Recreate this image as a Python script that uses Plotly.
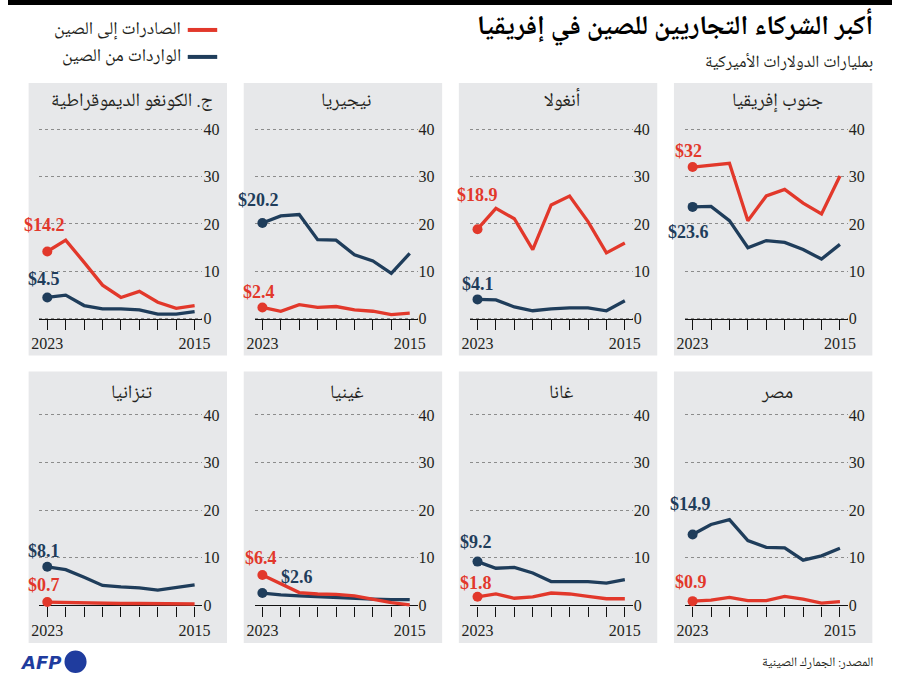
import plotly.graph_objects as go

# ---------------- data ----------------
years = [2023, 2022, 2021, 2020, 2019, 2018, 2017, 2016, 2015]
year_labels = ["2023", "", "", "", "", "", "", "", "2015"]

countries = ["ج. الكونغو الديموقراطية", "نيجيريا", "أنغولا", "جنوب إفريقيا",
             "تنزانيا", "غينيا", "غانا", "مصر"]

exports_congo = [14.2, 16.6, 11.9, 7.1, 4.5, 5.8, 3.5, 2.2, 2.8]
exports_nigeria = [2.4, 1.6, 3.0, 2.4, 2.6, 1.9, 1.6, 0.9, 1.2]
exports_angola = [18.9, 23.3, 21.1, 14.6, 24.0, 25.9, 20.5, 13.9, 16.0]
exports_south_africa = [32.0, 32.4, 32.8, 20.7, 25.9, 27.3, 24.4, 22.1, 30.1]
exports_tanzania = [0.7, 0.6, 0.5, 0.4, 0.4, 0.4, 0.4, 0.3, 0.3]
exports_guinea = [6.4, 4.6, 2.7, 2.4, 2.3, 2.0, 1.3, 0.6, 0.1]
exports_ghana = [1.8, 2.4, 1.5, 1.8, 2.6, 2.4, 1.9, 1.4, 1.4]
exports_egypt = [0.9, 1.1, 1.7, 1.0, 1.0, 1.9, 1.3, 0.5, 0.8]

imports_congo = [4.5, 5.0, 2.8, 2.1, 2.1, 1.9, 1.0, 1.0, 1.5]
imports_nigeria = [20.2, 21.7, 22.0, 16.7, 16.6, 13.5, 12.2, 9.6, 13.8]
imports_angola = [4.1, 4.0, 2.5, 1.7, 2.1, 2.3, 2.3, 1.7, 3.8]
imports_south_africa = [23.6, 23.7, 20.7, 15.0, 16.5, 16.1, 14.6, 12.6, 15.7]
imports_tanzania = [8.1, 7.5, 5.9, 4.2, 3.9, 3.7, 3.2, 3.7, 4.3]
imports_guinea = [2.6, 2.2, 2.0, 1.8, 1.7, 1.5, 1.3, 1.2, 1.2]
imports_ghana = [9.2, 7.8, 8.0, 6.8, 5.0, 5.0, 5.0, 4.7, 5.4]
imports_egypt = [14.9, 17.0, 18.0, 13.6, 12.2, 12.1, 9.5, 10.4, 12.0]

y_ticks = [0, 10, 20, 30, 40]

exports = [exports_congo, exports_nigeria, exports_angola, exports_south_africa,
           exports_tanzania, exports_guinea, exports_ghana, exports_egypt]
imports = [imports_congo, imports_nigeria, imports_angola, imports_south_africa,
           imports_tanzania, imports_guinea, imports_ghana, imports_egypt]

title = "أكبر الشركاء التجاريين للصين في إفريقيا"
subtitle = "بمليارات الدولارات الأميركية"
legend_exports = "الصادرات إلى الصين"
legend_imports = "الواردات من الصين"
source = "المصدر: الجمارك الصينية"

# ---------------- style / layout ----------------
W, H = 900, 683
RED = "#e2382b"
BLUE = "#1f3d5b"
PANEL_BG = "#e7e8ea"
TXT = "#231f20"
AR_FONT = "Noto Naskh Arabic, Noto Sans Arabic, DejaVu Sans, sans-serif"
NUM_FONT = "Liberation Serif, DejaVu Serif, serif"

panel_left = [21, 240, 459, 678]
panel_w = 202
row_top = [83, 372]
row_bot = [356, 644]
zero_px = [319.3, 606.3]
unit_px = [4.75, 4.77]
title_py = [102, 395]
y_lo, y_hi = -1.5, 42
px_per_year = 18.75

# label offsets (dx, dy in screen px) for exports / imports labels
exp_off = [(-3, -26), (-3.5, -15), (0, -34), (-4.5, -16),
           (-3, -17), (-1, -16.5), (-2, -14), (-2, -19)]
imp_off = [(-3, -18), (-3.5, -23), (0, -15.5), (-4, 25),
           (-3, -16), (35, -16), (-2, -19.5), (-2, -30)]


def fx(px):
    return px / W


def fy(py):
    return 1 - py / H


fig = go.Figure()
shapes = []
annotations = []
layout_axes = {}


def fmt(v):
    return "$" + ("%g" % v)


for i in range(8):
    r, c = divmod(i, 4)
    n = i + 1
    xs = "" if n == 1 else str(n)
    left = panel_left[c]
    shapes.append(dict(type="rect", xref="paper", yref="paper", layer="below",
                       x0=fx(left), x1=fx(left + panel_w),
                       y0=fy(row_bot[r]), y1=fy(row_top[r]),
                       fillcolor=PANEL_BG, line=dict(width=0)))
    x0p, x1p = left + 11, left + 177
    x_at_2023 = left + 19
    rng_left = years[0] + (x_at_2023 - x0p) / px_per_year
    rng_right = years[-1] - (x1p - (x_at_2023 + 8 * px_per_year)) / px_per_year
    u = unit_px[r]
    yb = zero_px[r] - y_lo * u
    yt = zero_px[r] - y_hi * u
    layout_axes["xaxis" + xs] = dict(
        domain=[fx(x0p), fx(x1p)], range=[rng_left, rng_right],
        anchor="free", position=fy(zero_px[r]),
        tickmode="array", tickvals=years, ticktext=year_labels,
        ticks="outside", ticklen=10, tickwidth=1, tickcolor="#111",
        showline=True, linecolor="#111", linewidth=1.3,
        showgrid=False, zeroline=False, layer="below traces",
        tickfont=dict(family=NUM_FONT, size=16, color=TXT), fixedrange=True)
    layout_axes["yaxis" + xs] = dict(
        domain=[fy(yb), fy(yt)], range=[y_lo, y_hi], anchor="x" + xs,
        side="right", tickmode="array", tickvals=y_ticks,
        ticks="", showgrid=True, gridcolor="#8c8c8c", griddash="dot", gridwidth=1,
        zeroline=False, showline=False, layer="below traces",
        tickfont=dict(family=NUM_FONT, size=16, color=TXT), fixedrange=True)

    for vals, col, off in ((imports[i], BLUE, imp_off[i]), (exports[i], RED, exp_off[i])):
        fig.add_trace(go.Scatter(
            x=years, y=vals, mode="lines", xaxis="x" + xs, yaxis="y" + xs,
            line=dict(color=col, width=3.3),
            showlegend=False, hoverinfo="skip"))
        fig.add_trace(go.Scatter(
            x=years[:1], y=vals[:1], mode="markers", xaxis="x" + xs, yaxis="y" + xs,
            marker=dict(size=10, color=col, opacity=1, line=dict(width=0)),
            showlegend=False, hoverinfo="skip"))
        annotations.append(dict(
            x=years[0], y=vals[0], xref="x" + xs, yref="y" + xs,
            text="<b>" + fmt(vals[0]) + "</b>", showarrow=False,
            xanchor="center", yanchor="middle", xshift=off[0], yshift=-off[1],
            font=dict(family=NUM_FONT, size=18, color=col)))

    annotations.append(dict(
        x=fx(left + panel_w / 2 + 4), y=fy(title_py[r]), xref="paper", yref="paper",
        text=countries[i], showarrow=False, xanchor="center", yanchor="middle",
        font=dict(family=AR_FONT, size=19, color=TXT)))

# header
shapes.append(dict(type="rect", xref="paper", yref="paper", x0=0, x1=1,
                   y0=fy(5), y1=1, fillcolor="#000", line=dict(width=0), layer="above"))
annotations.append(dict(x=fx(883), y=fy(28), xref="paper", yref="paper",
                        text="<b>" + title + "</b>", showarrow=False,
                        xanchor="right", yanchor="middle",
                        font=dict(family=AR_FONT, size=27, color="#000")))
annotations.append(dict(x=fx(883), y=fy(64), xref="paper", yref="paper",
                        text=subtitle, showarrow=False,
                        xanchor="right", yanchor="middle",
                        font=dict(family=AR_FONT, size=17, color=TXT)))
# legend
for txt, col, py in ((legend_exports, RED, 30), (legend_imports, BLUE, 57)):
    shapes.append(dict(type="line", xref="paper", yref="paper",
                       x0=fx(183), x1=fx(213), y0=fy(py), y1=fy(py),
                       line=dict(color=col, width=4)))
    annotations.append(dict(x=fx(178), y=fy(py), xref="paper", yref="paper",
                            text=txt, showarrow=False, xanchor="right", yanchor="middle",
                            font=dict(family=AR_FONT, size=18, color=TXT)))
# footer
annotations.append(dict(x=fx(883), y=fy(664), xref="paper", yref="paper",
                        text=source, showarrow=False, xanchor="right", yanchor="middle",
                        font=dict(family=AR_FONT, size=13, color=TXT)))
annotations.append(dict(x=fx(10), y=fy(663), xref="paper", yref="paper",
                        text="<b><i>AFP</i></b>", showarrow=False, xanchor="left",
                        yanchor="middle",
                        font=dict(family="DejaVu Sans, sans-serif", size=18,
                                  color="#1f3c9e")))
shapes.append(dict(type="circle", xref="paper", yref="paper",
                   x0=fx(57.5), x1=fx(80), y0=fy(674), y1=fy(651.5),
                   fillcolor="#1f3c9e", line=dict(width=0)))

fig.update_layout(width=W, height=H, margin=dict(l=0, r=0, t=0, b=0),
                  paper_bgcolor="white", plot_bgcolor="rgba(0,0,0,0)",
                  shapes=shapes, annotations=annotations, showlegend=False,
                  **layout_axes)

fig.write_html("out.html", config={"displayModeBar": False},
               post_script="document.body.style.margin='0';document.body.style.overflow='hidden';")
